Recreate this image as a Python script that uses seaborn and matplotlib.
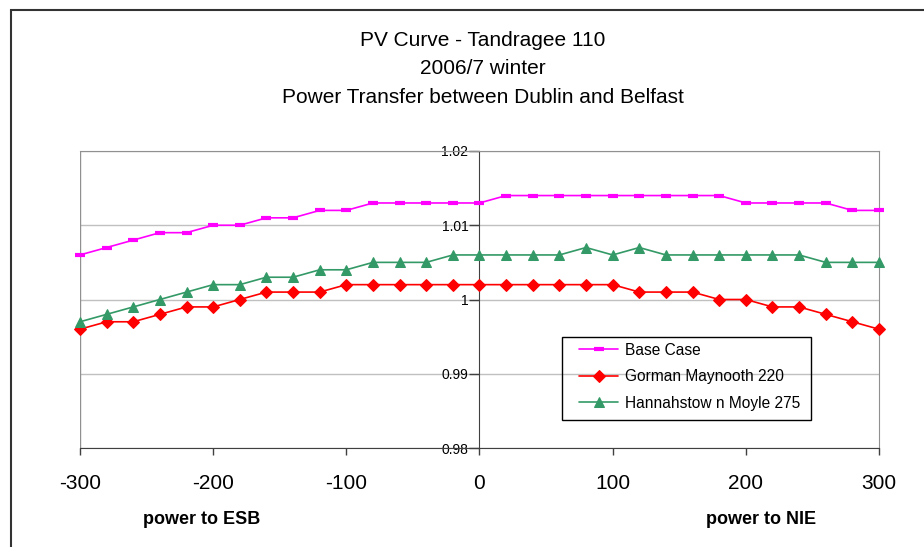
import matplotlib
matplotlib.use('Agg')
import matplotlib.pyplot as plt
from matplotlib.patches import Rectangle
import seaborn as sns

# data (x step of 20 MW)
power = list(range(-300, 301, 20))

base_case = [1.006, 1.007, 1.008, 1.009, 1.009, 1.010, 1.010, 1.011, 1.011, 1.012,
             1.012, 1.013, 1.013, 1.013, 1.013, 1.013,
             1.014, 1.014, 1.014, 1.014, 1.014, 1.014, 1.014, 1.014, 1.014,
             1.013, 1.013, 1.013, 1.013, 1.012, 1.012]

gorman = [0.996, 0.997, 0.997, 0.998, 0.999, 0.999, 1.000, 1.001, 1.001, 1.001,
          1.002, 1.002, 1.002, 1.002, 1.002, 1.002,
          1.002, 1.002, 1.002, 1.002, 1.002, 1.001, 1.001, 1.001, 1.000,
          1.000, 0.999, 0.999, 0.998, 0.997, 0.996]

hannahstown = [0.997, 0.998, 0.999, 1.000, 1.001, 1.002, 1.002, 1.003, 1.003, 1.004,
               1.004, 1.005, 1.005, 1.005, 1.006, 1.006,
               1.006, 1.006, 1.006, 1.007, 1.006, 1.007, 1.006, 1.006, 1.006,
               1.006, 1.006, 1.006, 1.005, 1.005, 1.005]

series_names = ['Base Case', 'Gorman Maynooth 220', 'Hannahstow n Moyle 275']
colors = ['#FF00FF', '#FF0000', '#339966']

x_ticks = [-300, -200, -100, 0, 100, 200, 300]
x_labels = ['-300', '-200', '-100', '0', '100', '200', '300']
y_ticks = [0.98, 0.99, 1.00, 1.01, 1.02]
y_labels = ['0.98', '0.99', '1', '1.01', '1.02']

sns.set_style('white')
plt.rcParams['font.family'] = ['Liberation Sans', 'DejaVu Sans']
plt.rcParams['text.color'] = 'black'
plt.rcParams['xtick.labelcolor'] = 'black'
plt.rcParams['ytick.labelcolor'] = 'black'

W, H = 924, 547
fig = plt.figure(figsize=(W / 100, H / 100), dpi=100)
ax = fig.add_axes([80 / W, 1 - 448 / H, (879 - 80) / W, (448 - 151) / H])

sns.lineplot(x=power, y=base_case, ax=ax, color=colors[0], lw=1.2,
             marker='_', markersize=7, mew=3, mec=colors[0],
             label=series_names[0], clip_on=False, zorder=5)
sns.lineplot(x=power, y=gorman, ax=ax, color=colors[1], lw=1.2,
             marker='D', markersize=6, mec=colors[1], mfc=colors[1],
             label=series_names[1], clip_on=False, zorder=5)
sns.lineplot(x=power, y=hannahstown, ax=ax, color=colors[2], lw=1.2,
             marker='^', markersize=7, mec=colors[2], mfc=colors[2],
             label=series_names[2], clip_on=False, zorder=5)

ax.set_xlim(-300, 300)
ax.set_ylim(0.98, 1.02)
ax.set_xticks(x_ticks)
ax.set_xticklabels(x_labels, fontsize=15)
ax.set_yticks(y_ticks)
ax.set_yticklabels(y_labels, fontsize=10)
ax.set_xlabel('')
ax.set_ylabel('')

ax.yaxis.grid(True, color='#c0c0c0', lw=1)
ax.xaxis.grid(False)
ax.set_axisbelow(True)

# y axis crosses at x = 0
ax.spines['left'].set_position(('data', 0))
ax.spines['left'].set_color('#404040')
ax.spines['bottom'].set_color('#404040')
for s in ['top', 'right']:
    ax.spines[s].set_visible(True)
    ax.spines[s].set_color('#909090')
ax.axvline(-300, color='#909090', lw=1, zorder=1)

ax.tick_params(axis='y', direction='out', length=7, width=1, color='#404040', pad=1, left=True)
ax.tick_params(axis='x', direction='out', length=5, width=1, color='#404040', pad=14, bottom=True)

# legend: no frame from matplotlib, box drawn separately
leg = ax.legend(loc='upper left', bbox_to_anchor=(571 / W, 1 - 335 / H),
                bbox_transform=fig.transFigure, frameon=False, fontsize=11.2,
                handlelength=2.55, handletextpad=0.4, labelspacing=0.74, borderpad=0)
fig.patches.append(Rectangle((562 / W, 1 - 420 / H), (811 - 562) / W, (420 - 337) / H,
                             transform=fig.transFigure, fill=False, edgecolor='black', lw=1))

# titles
fig.text(483 / W, 1 - 31 / H, 'PV Curve - Tandragee 110\n2006/7 winter\nPower Transfer between Dublin and Belfast',
         ha='center', va='top', fontsize=15, linespacing=1.62)

fig.text(202 / W, 1 - 519 / H, 'power to ESB', ha='center', va='center', fontsize=13, fontweight='bold')
fig.text(761 / W, 1 - 519 / H, 'power to NIE', ha='center', va='center', fontsize=13, fontweight='bold')

# outer chart frame
fig.patches.append(Rectangle((11 / W, -0.1), 1.2, 1.1 - 10 / H, transform=fig.transFigure,
                             fill=False, edgecolor='#333333', lw=1.5))

fig.savefig('out.png', dpi=100)
